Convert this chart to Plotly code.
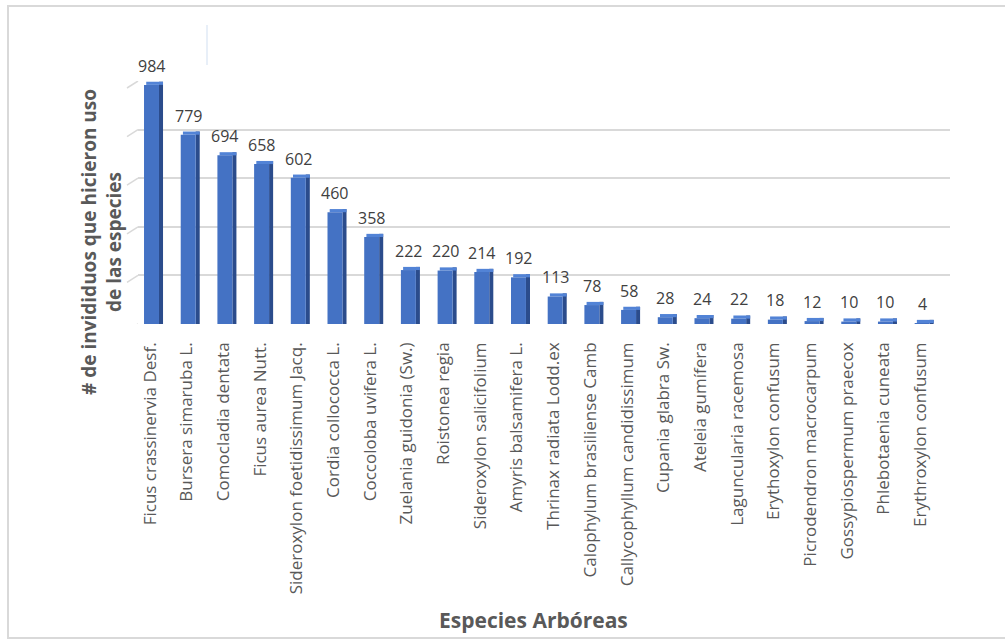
import plotly.graph_objects as go

species = [
    "Ficus crassinervia Desf.", "Bursera simaruba L.", "Comocladia dentata",
    "Ficus aurea Nutt.", "Sideroxylon foetidissimum Jacq.", "Cordia collococca L.",
    "Coccoloba uvifera L.", "Zuelania guidonia (Sw.)", "Roistonea regia",
    "Sideroxylon salicifolium", "Amyris balsamifera L.", "Thrinax radiata Lodd.ex",
    "Calophylum brasiliense Camb", "Callycophyllum candidissimum", "Cupania glabra Sw.",
    "Ateleia gumífera", "Laguncularia racemosa", "Erythoxylon confusum",
    "Picrodendron macrocarpum", "Gossypiospermum praecox", "Phlebotaenia cuneata",
    "Erythroxylon confusum",
]
values = [984, 779, 694, 658, 602, 460, 358, 222, 220, 214, 192, 113, 78, 58, 28, 24, 22, 18, 12, 10, 10, 4]
grid_values = [0, 200, 400, 600, 800, 1000]

xs = list(range(len(species)))
front_off, front_w = -0.163, 0.408
side_off, side_w = 0.245, 0.11
cap_units = 13  # visual depth of the 3D top face, in axis units

fig = go.Figure()
# right side face (darker)
fig.add_trace(go.Bar(x=xs, y=[v + cap_units for v in values], base=0, offset=side_off, width=side_w,
                     marker=dict(color="#2B4C8C", line=dict(width=0)),
                     hoverinfo="skip", showlegend=False))
# top face (slightly lighter)
fig.add_trace(go.Bar(x=xs, y=[cap_units] * len(values), base=values,
                     offset=front_off + 0.06, width=front_w + side_w - 0.06,
                     marker=dict(color="#5283D6", line=dict(width=0)),
                     hoverinfo="skip", showlegend=False))
# front face
fig.add_trace(go.Bar(x=xs, y=values, offset=front_off, width=front_w,
                     marker=dict(color="#4472C4", line=dict(width=0)),
                     showlegend=False))

annotations = []
for x, v in zip(xs, values):
    annotations.append(dict(x=x + 0.04, y=v + cap_units, xref="x", yref="y", text=str(v),
                            showarrow=False, yanchor="bottom", xanchor="center", yshift=3,
                            font=dict(family="Open Sans", size=16, color="#404040")))

annotations.append(dict(x=101 / 1005, y=1 - 242 / 640, xref="paper", yref="paper",
                        xanchor="center", yanchor="middle",
                        text="# de invididuos que hicieron uso<br>de las especies",
                        textangle=-90, showarrow=False, align="center",
                        font=dict(family="Open Sans", size=19, color="#595959", weight="bold")))
annotations.append(dict(x=533 / 1005, y=1 - 620 / 640, xref="paper", yref="paper",
                        xanchor="center", yanchor="middle",
                        text="Especies Arbóreas", showarrow=False,
                        font=dict(family="Open Sans", size=21, color="#595959", weight="bold")))

shapes = []
for g in grid_values:
    shapes.append(dict(type="line", xref="paper", yref="y", ysizemode="pixel", yanchor=g,
                       x0=127 / 1005, x1=138 / 1005, y0=-7, y1=0,
                       line=dict(color="#D9D9D9", width=1.5)))
# outer frame
shapes.append(dict(type="rect", xref="paper", yref="paper",
                   x0=8 / 1005, x1=1.02, y0=1 - 638 / 640, y1=1 - 6 / 640,
                   line=dict(color="#D9D9D9", width=2), fillcolor="rgba(0,0,0,0)", layer="below"))
shapes.append(dict(type="line", xref="paper", yref="paper",
                   x0=207 / 1005, x1=207 / 1005, y0=1 - 65 / 640, y1=1 - 25 / 640,
                   line=dict(color="#E8EFF8", width=2)))

fig.update_layout(
    width=1005, height=640,
    margin=dict(l=0, r=0, t=0, b=0),
    paper_bgcolor="white", plot_bgcolor="white",
    barmode="overlay",
    annotations=annotations, shapes=shapes,
    xaxis=dict(domain=[138 / 1005, 950 / 1005], range=[-0.327, 21.8],
               tickmode="array", tickvals=xs, ticktext=species, tickangle=-90,
               tickfont=dict(family="Open Sans", size=17, color="#595959"),
               showgrid=False, zeroline=False, showline=False, ticks="",
               ticklabelstandoff=14),
    yaxis=dict(domain=[1 - 324 / 640, 1 - 81 / 640], range=[0, 1000],
               tickvals=grid_values, showticklabels=False, showgrid=True,
               gridcolor="#D9D9D9", gridwidth=1.5, zeroline=False, showline=False, ticks=""),
)

fig.write_html("out.html")
